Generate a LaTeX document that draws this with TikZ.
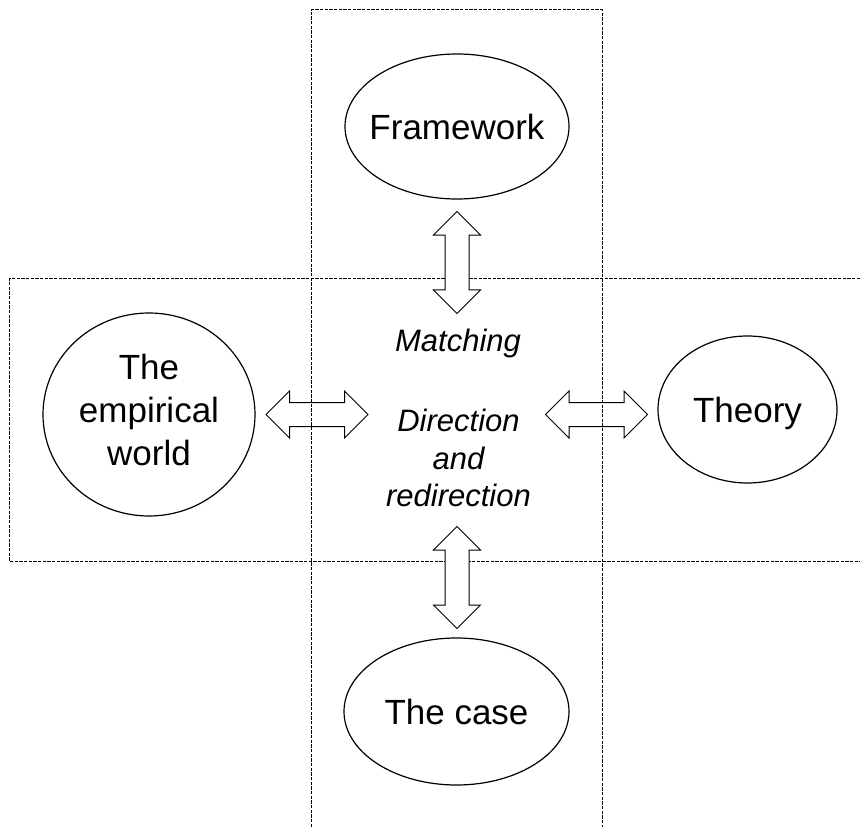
\documentclass[tikz,border=0pt]{standalone}
\usepackage{fontspec}
\setmainfont{Liberation Sans}
\usetikzlibrary{shapes.geometric, shapes.arrows}

\begin{document}
\begin{tikzpicture}[x=0.75pt, y=-0.75pt, every node/.style={inner sep=0pt},
  frame/.style={line width=0.75pt, dash pattern=on 2.5pt off 1pt},
  blob/.style={ellipse, draw, line width=0.9pt, inner sep=0pt},
  twoway/.style={double arrow, draw, fill=white, line width=0.75pt, inner xsep=0pt, inner ysep=8.625pt, minimum height=76.5pt, minimum width=34.5pt, double arrow head extend=8.625pt}]
\useasboundingbox (0,0) rectangle (860,827);

\coordinate (HNE) at (860,279);
\coordinate (HNW) at (9,279);
\coordinate (HSW) at (9,561);
\coordinate (HSE) at (860,561);

\coordinate (VSW) at (311,827);
\coordinate (VNW) at (311,10);
\coordinate (VNE) at (602,10);
\coordinate (VSE) at (602,827);

\draw[frame] (HNE) -- (HNW) -- (HSW) -- (HSE);

\node[twoway, rotate=90] (AN) at (457, 262.5) {};
\node[twoway, rotate=90] (AS) at (457, 577.5) {};
\node[twoway] (AW) at (317, 414.5) {};
\node[twoway] (AE) at (596.5, 414.5) {};

\draw[frame] (VSW) -- (VNW) -- (VNE) -- (VSE);

\node[blob, minimum width=168pt, minimum height=108.75pt] (frame) at (457, 126.5) {};
\node[blob, minimum width=159pt, minimum height=152.25pt] (world) at (149, 414.5) {};
\node[blob, minimum width=134.25pt, minimum height=110.25pt] (theory) at (747.5, 409.5) {};
\node[blob, minimum width=168.75pt, minimum height=110.25pt] (case) at (456.5, 711.5) {};

\begin{scope}[every node/.style={inner sep=0pt, align=center, font=\fontsize{26.25}{32}\selectfont}]
\node (frametext) at (frame) {Framework};
\node (worldtext) at (149, 410) {The\\empirical\\world};
\node (theorytext) at (747.5, 413) {Theory};
\node (casetext) at (case) {The case};
\end{scope}

\begin{scope}[every node/.style={inner sep=0pt, align=center, font=\fontsize{23.25}{28}\selectfont\itshape}]
\node[anchor=base] (match) at (458, 351.7) {Matching};
\node (direct) at (458.5, 458) {Direction\\and\\redirection};
\end{scope}

\end{tikzpicture}
\end{document}
